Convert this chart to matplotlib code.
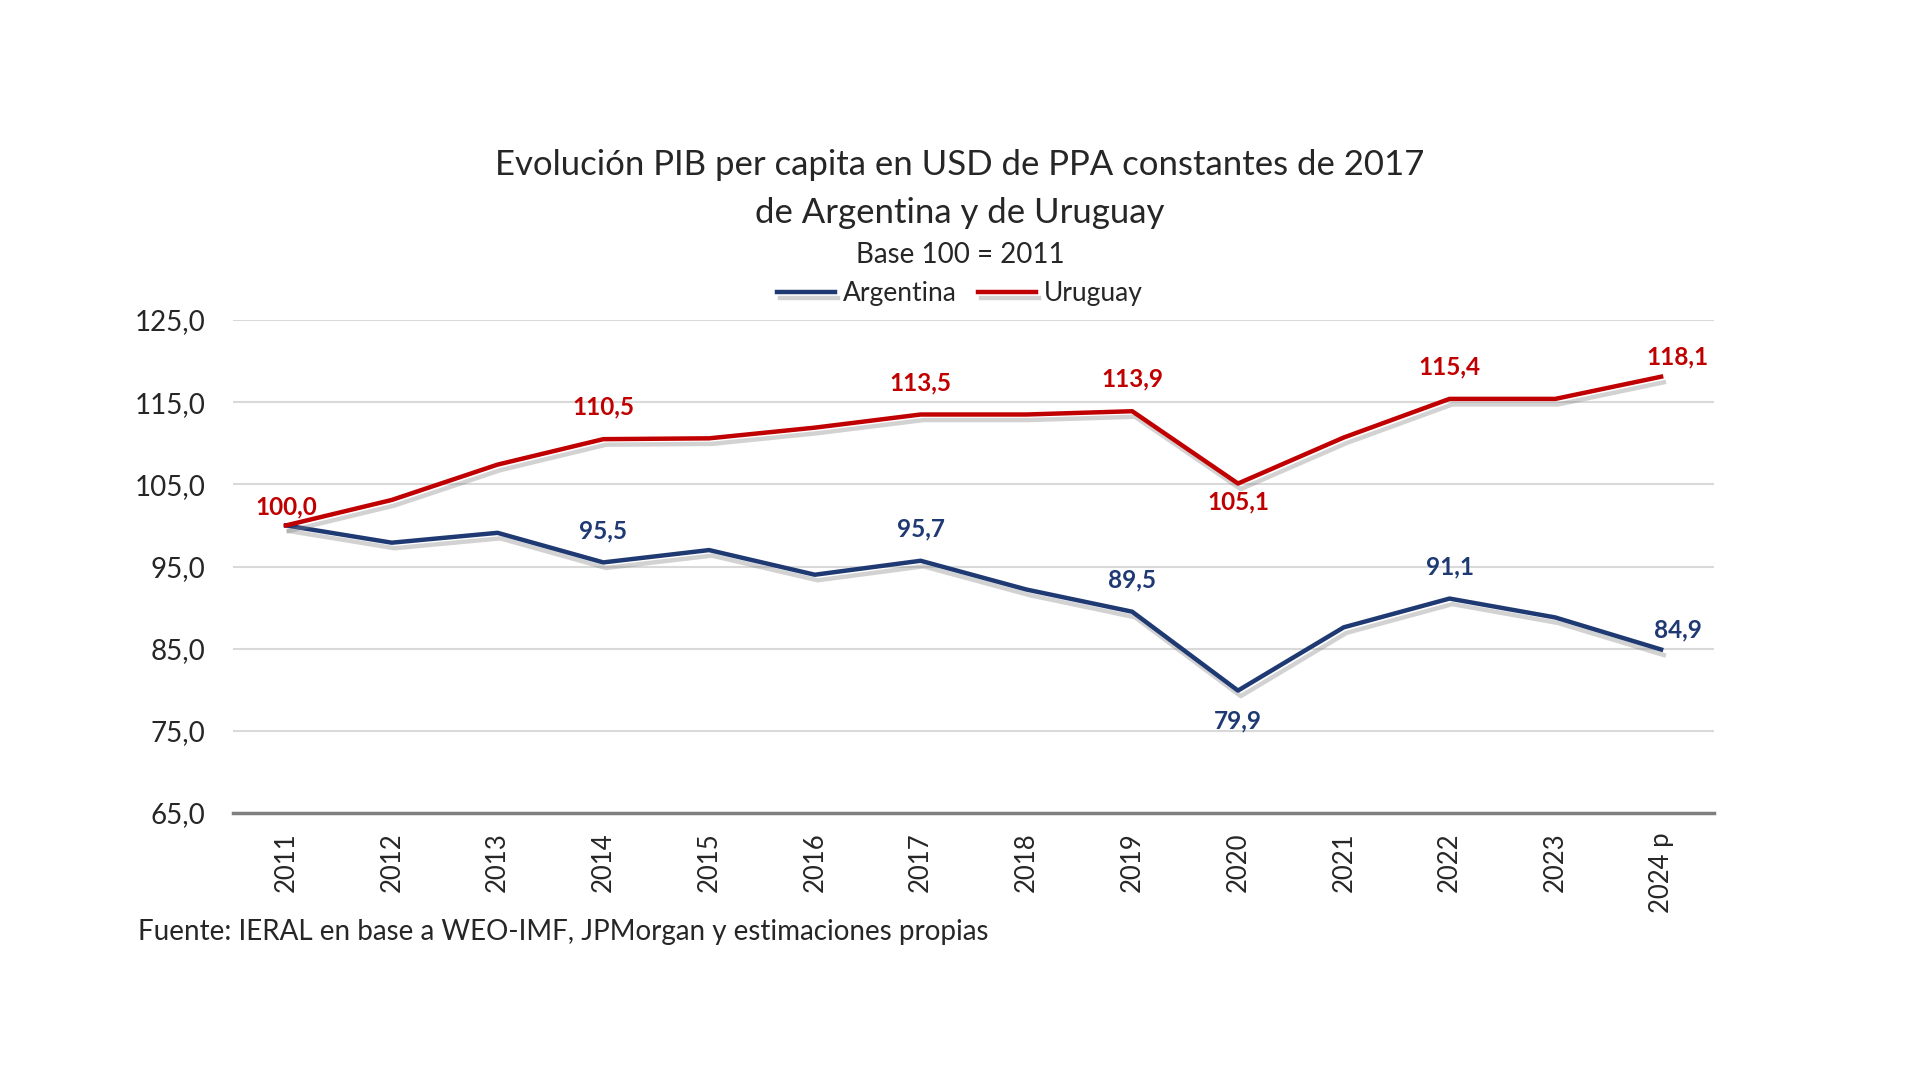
import matplotlib.pyplot as plt
import matplotlib.patheffects as pe

# Datos (base 100 = 2011)
anios = ["2011", "2012", "2013", "2014", "2015", "2016", "2017",
         "2018", "2019", "2020", "2021", "2022", "2023", "2024 p"]
argentina = [100.0, 97.9, 99.1, 95.5, 97.0, 94.0, 95.7,
             92.2, 89.5, 79.9, 87.6, 91.1, 88.8, 84.9]
uruguay = [100.0, 103.1, 107.4, 110.5, 110.6, 111.9, 113.5,
           113.5, 113.9, 105.1, 110.7, 115.4, 115.4, 118.1]

# indices con etiqueta de dato
etiq_arg = [3, 6, 8, 9, 11, 13]
etiq_uru = [0, 3, 6, 8, 9, 11, 13]

yticks = [65, 75, 85, 95, 105, 115, 125]

azul = '#1F3A73'
rojo = '#C00000'

plt.rcParams['font.family'] = ['Lato', 'DejaVu Sans']

fig = plt.figure(figsize=(19.2, 10.8), dpi=100)
ax = fig.add_axes([0.1214, 0.2472, 0.7713, 0.4565])

x = list(range(len(anios)))
sombra = [pe.SimpleLineShadow(offset=(2, -4), shadow_color='#808080', alpha=0.35),
          pe.Normal()]
ax.plot(x, argentina, color=azul, lw=3.2, label='Argentina', path_effects=sombra, zorder=3)
ax.plot(x, uruguay, color=rojo, lw=3.2, label='Uruguay', path_effects=sombra, zorder=3)


def etiquetar(serie, indices, color):
    for i in indices:
        v = serie[i]
        dx, dy = 0, 23
        if anios[i] == "2020":
            dy = -22 if serie is argentina else -13
        if i == len(anios) - 1:
            dx, dy = 12, 14
        if i == 0:
            dy = 13
        ax.annotate(f"{v:.1f}".replace('.', ','), (i, v), xytext=(dx, dy),
                    textcoords='offset points', ha='center', va='center',
                    color=color, fontsize=17.5, fontweight='bold')


etiquetar(argentina, etiq_arg, azul)
etiquetar(uruguay, etiq_uru, rojo)

ax.set_xlim(-0.5, len(anios) - 0.5)
ax.set_ylim(65, 125)
ax.set_yticks(yticks)
ax.set_yticklabels([f"{t:.1f}".replace('.', ',') for t in yticks], fontsize=20, color='#262626')
ax.set_xticks(x)
ax.set_xticklabels(anios, rotation=90, fontsize=18.5, color='#262626')
ax.tick_params(length=0, pad=14)
ax.tick_params(axis='y', pad=20)
ax.grid(axis='y', color='#D9D9D9', lw=1.5)
ax.set_axisbelow(True)
for s in ['top', 'right', 'left']:
    ax.spines[s].set_visible(False)
ax.spines['bottom'].set_color('#7F7F7F')
ax.spines['bottom'].set_linewidth(2.5)

fig.text(0.5, 0.847, "Evolución PIB per capita en USD de PPA constantes de 2017",
         ha='center', va='center', fontsize=25, color='#262626')
fig.text(0.5, 0.803, "de Argentina y de Uruguay", ha='center', va='center',
         fontsize=25, color='#262626')
fig.text(0.5, 0.764, "Base 100 = 2011", ha='center', va='center', fontsize=20, color='#262626')

ax.legend(loc='center', bbox_to_anchor=(0.5, 0.728), bbox_transform=fig.transFigure,
          ncol=2, frameon=False, fontsize=19, handlelength=2.2, handletextpad=0.3,
          columnspacing=0.8, labelcolor='#262626')

fig.text(0.072, 0.137, "Fuente: IERAL en base a WEO-IMF, JPMorgan y estimaciones propias",
         ha='left', va='center', fontsize=20, color='#262626')

fig.savefig('out.png', dpi=100, facecolor='white')
